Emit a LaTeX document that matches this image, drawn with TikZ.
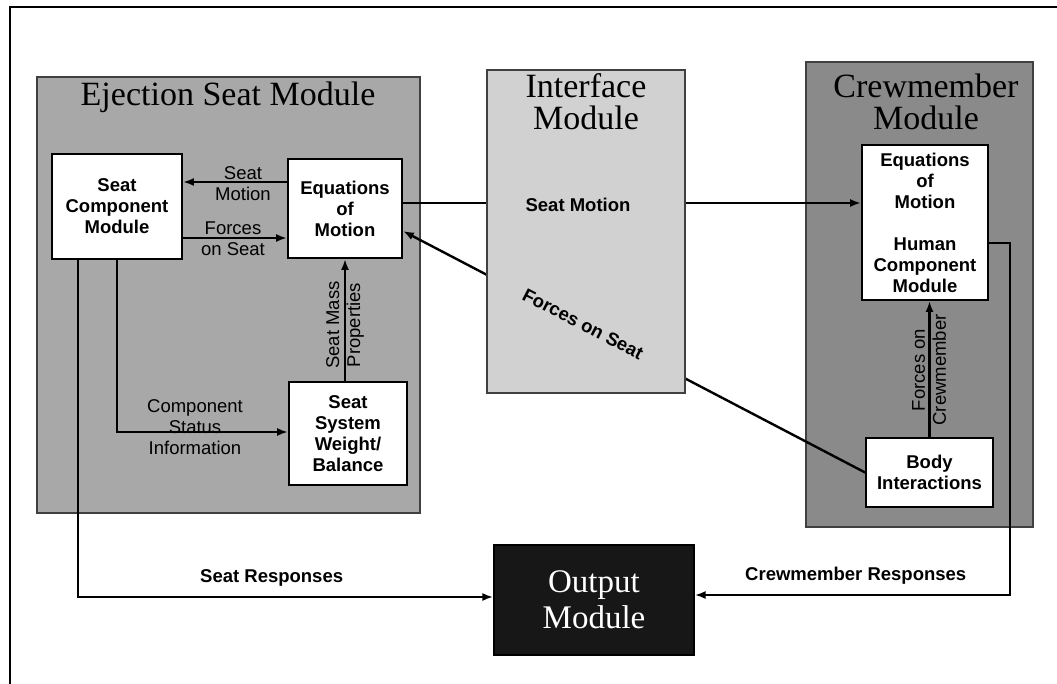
\documentclass[tikz,border=0pt]{standalone}
\usepackage{fontspec}
\setmainfont{Liberation Serif}
\setsansfont{Liberation Sans}
\usetikzlibrary{arrows.meta}
\pgfdeclarelayer{bg}
\pgfdeclarelayer{lines}
\pgfsetlayers{bg,lines,main}
\definecolor{ejgray}{gray}{0.66}
\definecolor{ifgray}{gray}{0.82}
\definecolor{crgray}{gray}{0.54}
\definecolor{outgray}{gray}{0.09}
\tikzset{
  module/.style={draw=black!75, line width=1.2pt, inner sep=0pt},
  blk/.style={draw=black, line width=1.8pt, fill=white, inner sep=0pt, align=center,
    font=\sffamily\bfseries\fontsize{18.5}{21}\selectfont},
  lbl/.style={inner sep=0pt, align=center, font=\sffamily\fontsize{18.5}{21}\selectfont},
  blbl/.style={inner sep=0pt, align=center, font=\sffamily\bfseries\fontsize{18.5}{21}\selectfont},
  ttl/.style={inner sep=0pt, align=center, font=\fontsize{34}{32}\selectfont},
  arr/.style={line width=2.4pt, -{Latex[length=11pt,width=8pt]}},
}
\begin{document}
\begin{tikzpicture}[x=1pt,y=-1pt]
\useasboundingbox (0,0) rectangle (1057,684);
% frame
\draw[line width=1.8pt] (10,684) -- (10,7) -- (1057,7);

% module backgrounds
\begin{pgfonlayer}{bg}
\node[module, fill=ejgray, minimum width=383, minimum height=436] (ej) at (228.5,295) {};
\node[module, fill=crgray, minimum width=227, minimum height=465] (cr) at (919.5,294.5) {};
\end{pgfonlayer}
\node[ttl] (ejt) at (228,97) {Ejection Seat Module};
\node[ttl] (crt) at (926,102) {Crewmember\\Module};

% inner boxes
\node[blk, minimum width=130, minimum height=105] (sc) at (117,206.5) {Seat\\Component\\Module};
\node[blk, minimum width=114, minimum height=99] (eomL) at (345,208.5) {Equations\\of\\Motion};
\node[blk, minimum width=118, minimum height=103] (sw) at (348,433.5) {Seat\\System\\Weight/\\Balance};
\node[blk, minimum width=126, minimum height=155] (crE) at (925,222.5) {Equations\\of\\Motion\\[21pt]Human\\Component\\Module};
\node[blk, minimum width=127, minimum height=69] (body) at (929.5,472.5) {Body\\Interactions};

% interface and output modules
\node[module, fill=ifgray, minimum width=198, minimum height=323] (if) at (586,231.5) {};
\node[ttl] (ift) at (586,102) {Interface\\Module};
\node[module, draw=black, fill=outgray, minimum width=200, minimum height=110,
      text=white, align=center, font=\fontsize{33}{36}\selectfont] (out) at (594,600) {Output\\Module};

% helper coordinates
\coordinate (yA) at (0,182);
\coordinate (yB) at (0,238);
\coordinate (yC) at (0,203);
\coordinate (yH) at (0,231);
\coordinate (sD) at (117,432);
\coordinate (sB) at (78,597);
\coordinate (cF) at (1010,243);
\coordinate (cG) at (1010,595);

% connectors passing behind the interface module
\begin{pgfonlayer}{lines}
\draw[arr] (eomL.east |- yC) -- (crE.west |- yC);
\draw[arr] (body.west) -- (eomL.east |- yH);
\end{pgfonlayer}
\draw[arr] (eomL.west |- yA) -- (sc.east |- yA);
\draw[arr] (sc.east |- yB) -- (eomL.west |- yB);
\draw[arr] (sw.north -| eomL.south) -- (eomL.south);
\draw[arr] (sc.south -| sD) -- (sD) -- (sw.west |- sD);
\draw[arr] (sc.south -| sB) -- (sB) -- (out.west |- sB);
\draw[arr] (body.north) -- (body.north |- crE.south);
\draw[arr] (crE.east |- cF) -- (cF) -- (cG) -- (out.east |- cG);

% labels
\node[lbl] (l1) at (243,183.5) {Seat\\Motion};
\node[lbl] (l2) at (233,239) {Forces\\on Seat};
\node[lbl, rotate=90] (l3) at (345,325) {Seat Mass\\Properties};
\node[lbl] (l4) at (195,427) {Component\\Status\\Information};
\node[lbl, rotate=90] (l5) at (929,370) {Forces on\\Crewmember};
\node[blbl] (l6) at (578,205) {Seat Motion};
\node[blbl, rotate=-27.3] (l7) at (583,324) {Forces on Seat};
\node[blbl, anchor=west] (l8) at (200,578) {Seat Responses};
\node[blbl, anchor=west] (l9) at (745,576) {Crewmember Responses};
\end{tikzpicture}
\end{document}
